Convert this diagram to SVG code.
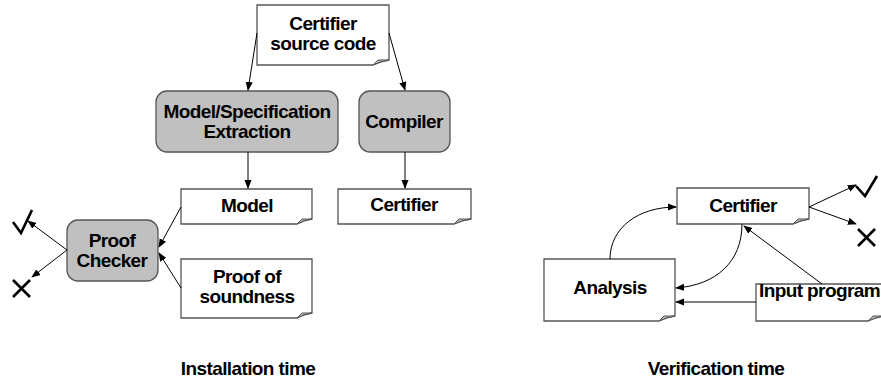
<svg xmlns="http://www.w3.org/2000/svg" width="881" height="381" viewBox="0 0 881 381">
<style>
.t{font-family:"Liberation Sans",Arial,sans-serif;font-weight:bold;font-size:19px;fill:#000;text-anchor:middle;letter-spacing:-0.6px}
.doc{fill:#fff;stroke:#555;stroke-width:1.3}
.fold{fill:#bbb;stroke:#555;stroke-width:1}
.proc{fill:#c0c0c0;stroke:#555;stroke-width:1.3}
.c{fill:none;stroke:#000;stroke-width:1}
.mk{fill:none;stroke:#000;stroke-width:2.6}
</style>
<defs>
<marker id="ah" viewBox="0 0 10 10" refX="9" refY="5" markerWidth="9" markerHeight="9" markerUnits="userSpaceOnUse" orient="auto">
<path d="M0,1 L10,5 L0,9 z" fill="#000"/>
</marker>
</defs>
<rect width="881" height="381" fill="#fff"/>

<g id="src">
<path class="doc" d="M257,5 H389 V60 Q381,61 373,65 H257 Z"/>
<path class="fold" d="M373,65 L378,60 H389 Q381,61 373,65 Z"/>
<text class="t" x="323" y="30">Certifier</text>
<text class="t" x="323" y="50">source code</text>
</g>
<g id="extract">
<rect class="proc" x="156" y="91" width="182" height="61" rx="11"/>
<text class="t" x="247" y="118">Model/Specification</text>
<text class="t" x="247" y="138">Extraction</text>
</g>
<g id="compiler">
<rect class="proc" x="359" y="91" width="91" height="61" rx="11"/>
<text class="t" x="404" y="128">Compiler</text>
</g>
<g id="model">
<path class="doc" d="M181,189 H312 V219 Q304,220 297,224 H181 Z"/>
<path class="fold" d="M297,224 L302,219 H312 Q304,220 297,224 Z"/>
<text class="t" x="247" y="212">Model</text>
</g>
<g id="certifier1">
<path class="doc" d="M338,189 H471 V219 Q462,220 454,224 H338 Z"/>
<path class="fold" d="M454,224 L459,219 H471 Q462,220 454,224 Z"/>
<text class="t" x="404" y="211">Certifier</text>
</g>
<g id="proof">
<path class="doc" d="M181,259 H312 V313 Q304,314 297,318 H181 Z"/>
<path class="fold" d="M297,318 L302,313 H312 Q304,314 297,318 Z"/>
<text class="t" x="247" y="283">Proof of</text>
<text class="t" x="247" y="303">soundness</text>
</g>
<g id="checker">
<rect class="proc" x="67" y="220" width="91" height="61" rx="11"/>
<text class="t" x="112" y="247">Proof</text>
<text class="t" x="112" y="267">Checker</text>
</g>
<g id="certifier2">
<path class="doc" d="M677,188 H809 V219 Q801,220 793,224 H677 Z"/>
<path class="fold" d="M793,224 L798,219 H809 Q801,220 793,224 Z"/>
<text class="t" x="743" y="212">Certifier</text>
</g>
<g id="analysis">
<path class="doc" d="M544,259 H675 V316 Q667,317 659,321 H544 Z"/>
<path class="fold" d="M659,321 L664,316 H675 Q667,317 659,321 Z"/>
<text class="t" x="610" y="294">Analysis</text>
</g>
<g id="input">
<path class="doc" d="M756,284 H884 V316 Q876,317 868,321 H756 Z"/>
<path class="fold" d="M868,321 L873,316 H884 Q876,317 868,321 Z"/>
<text class="t" x="759" y="297" style="text-anchor:start">Input program</text>
</g>

<g id="marks">
<path class="mk" d="M13,222 L21,233 L32,210"/>
<path class="mk" d="M13,280 L30,297 M30,280 L13,297"/>
<path class="mk" d="M856,186 L865,196 L877,176"/>
<path class="mk" d="M858,229 L875,246 M875,229 L858,246"/>
</g>

<g id="connectors">
<path class="c" marker-end="url(#ah)" d="M257,33 L248,90"/>
<path class="c" marker-end="url(#ah)" d="M389,33 L405,90"/>
<path class="c" marker-end="url(#ah)" d="M248,152 L248,188"/>
<path class="c" marker-end="url(#ah)" d="M405,152 L405,188"/>
<path class="c" marker-end="url(#ah)" d="M181,207 L159,247"/>
<path class="c" marker-end="url(#ah)" d="M181,288 L159,253"/>
<path class="c" marker-end="url(#ah)" d="M67,250 L28,221"/>
<path class="c" marker-end="url(#ah)" d="M67,250 L32,277"/>
<path class="c" marker-end="url(#ah)" d="M809,207 L856,185"/>
<path class="c" marker-end="url(#ah)" d="M809,207 L856,224"/>
<path class="c" marker-end="url(#ah)" d="M610,259 C610,228 638,207 676,207"/>
<path class="c" marker-end="url(#ah)" d="M742,224 C742,262 716,285 676,288"/>
<path class="c" marker-end="url(#ah)" d="M756,302 L676,302"/>
<path class="c" marker-end="url(#ah)" d="M822,284 L744,226"/>
</g>

<text class="t" x="248" y="375">Installation time</text>
<text class="t" x="716" y="375">Verification time</text>
</svg>
